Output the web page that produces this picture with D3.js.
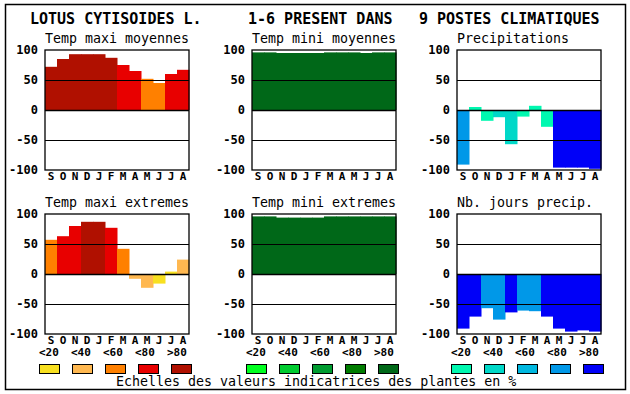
<!DOCTYPE html>
<html>
<head>
<meta charset="utf-8">
<script src="https://cdn.jsdelivr.net/npm/d3@7"></script>
<style>
  body { margin: 0; background: #fff; }
  text { font-family: "DejaVu Sans Mono", "Liberation Mono", monospace; fill: #000; }
</style>
</head>
<body>
<div class="chart"></div>
<script>
var svgWidth = 630;
var svgHeight = 394;

// data
var months = ["S","O","N","D","J","F","M","A","M","J","J","A"];
var yTicks = [100, 50, 0, -50, -100];
var classLabels = ["<20", "<40", "<60", "<80", ">80"];
var titles = ["LOTUS CYTISOIDES L.", "1-6 PRESENT DANS", "9 POSTES CLIMATIQUES"];
var panelNames = ["Temp maxi moyennes", "Temp mini moyennes", "Precipitations",
                  "Temp maxi extremes", "Temp mini extremes", "Nb. jours precip."];
var caption = "Echelles des valeurs indicatrices des plantes en %";

var tmaxMoy     = [72, 85, 93, 93, 93, 87, 75, 65, 52, 45, 60, 67];
var tmaxMoyCls  = [4, 4, 4, 4, 4, 4, 3, 3, 2, 2, 3, 3];
var tminMoy     = [96, 96, 95, 95, 95, 95, 96, 96, 96, 95, 96, 96];
var tminMoyCls  = [4, 4, 4, 4, 4, 4, 4, 4, 4, 4, 4, 4];
var precip      = [-91, 5, -18, -12, -57, -11, 7, -28, -96, -96, -96, -98];
var precipCls   = [3, 0, 0, 1, 1, 0, 0, 0, 4, 4, 4, 4];
var tmaxExt     = [57, 63, 80, 87, 87, 77, 42, -8, -23, -16, 4, 24];
var tmaxExtCls  = [2, 3, 3, 4, 4, 3, 2, 1, 1, 0, 0, 1];
var tminExt     = [96, 96, 94, 94, 94, 94, 96, 96, 96, 96, 96, 96];
var tminExtCls  = [4, 4, 4, 4, 4, 4, 4, 4, 4, 4, 4, 4];
var nbJours     = [-91, -71, -57, -76, -64, -61, -62, -71, -91, -96, -94, -96];
var nbJoursCls  = [4, 4, 3, 3, 4, 3, 3, 4, 4, 4, 4, 4];

var redScale   = ["#f8e020", "#ffb850", "#ff8000", "#e80000", "#b01000"];
var greenScale = ["#00ff20", "#00cc30", "#009c30", "#007c00", "#006818"];
var blueScale  = ["#00f8b0", "#00d8c8", "#00b8e0", "#0098e8", "#0000f8"];

var palettes = [redScale, greenScale, blueScale];

var panels = [
  {values: tmaxMoy, cls: tmaxMoyCls, pal: 0},
  {values: tminMoy, cls: tminMoyCls, pal: 1},
  {values: precip,  cls: precipCls,  pal: 2},
  {values: tmaxExt, cls: tmaxExtCls, pal: 0},
  {values: tminExt, cls: tminExtCls, pal: 1},
  {values: nbJours, cls: nbJoursCls, pal: 2}
];

// layout
var colX = [45, 252, 457];
var rowY = [50, 214];
var plotW = 144;
var plotH = 120;

var svg = d3.select(".chart")
  .append("svg")
  .attr("width", svgWidth)
  .attr("height", svgHeight);

// outer frame
svg.append("rect")
  .attr("x", 5.5).attr("y", 4.5)
  .attr("width", 620).attr("height", 385)
  .attr("fill", "none").attr("stroke", "#000").attr("stroke-width", 1.5);

// titles
var titleX = [30, 248, 419];
titles.forEach(function(t, i) {
  svg.append("text")
    .attr("x", titleX[i]).attr("y", 24)
    .style("font-size", "15px")
    .style("font-weight", "bold")
    .text(t);
});

var x = d3.scaleBand().domain(d3.range(12)).range([0, plotW]).padding(0);
var y = d3.scaleLinear().domain([-100, 100]).range([plotH, 0]);

panels.forEach(function(p, i) {
  var col = i % 3, row = Math.floor(i / 3);
  var g = svg.append("g")
    .attr("transform", `translate(${colX[col]}, ${rowY[row]})`);

  g.append("text")
    .attr("x", 0).attr("y", -7)
    .style("font-size", "13.3px")
    .text(panelNames[i]);

  // bars
  g.selectAll("rect.bar")
    .data(p.values)
    .enter()
    .append("rect")
    .attr("class", "bar")
    .attr("x", (d, j) => x(j))
    .attr("width", x.bandwidth() + 0.5)
    .attr("y", d => y(Math.max(0, d)))
    .attr("height", d => Math.abs(y(d) - y(0)))
    .attr("fill", (d, j) => palettes[p.pal][p.cls[j]]);

  // horizontal lines at 50, 0, -50
  g.selectAll("line.grid")
    .data([50, 0, -50])
    .enter()
    .append("line")
    .attr("x1", 0).attr("x2", plotW)
    .attr("y1", d => Math.round(y(d)) + 0.5)
    .attr("y2", d => Math.round(y(d)) + 0.5)
    .attr("stroke", "#000").attr("stroke-width", d => d === 0 ? 1.6 : 1.2);

  g.append("rect")
    .attr("x", 0).attr("y", 0)
    .attr("width", plotW).attr("height", plotH)
    .attr("fill", "none").attr("stroke", "#000").attr("stroke-width", 1.3);

  // y tick labels
  g.selectAll("text.tick")
    .data(yTicks)
    .enter()
    .append("text")
    .attr("x", -7)
    .attr("y", d => y(d))
    .attr("dy", "0.36em")
    .attr("text-anchor", "end")
    .style("font-size", "12px")
    .style("font-weight", "bold")
    .text(d => d);

  // month labels
  g.selectAll("text.month")
    .data(months)
    .enter()
    .append("text")
    .attr("x", (d, j) => x(j) + x.bandwidth() / 2)
    .attr("y", plotH + 10)
    .attr("text-anchor", "middle")
    .style("font-size", "11px")
    .style("font-weight", "bold")
    .text(d => d);
});

// legends
palettes.forEach(function(pal, k) {
  var lg = svg.append("g")
    .attr("transform", `translate(${colX[k] - 6}, 0)`);
  lg.selectAll("text")
    .data(classLabels)
    .enter()
    .append("text")
    .attr("x", (d, j) => j * 32)
    .attr("y", 356)
    .style("font-size", "11px")
    .style("font-weight", "bold")
    .text(d => d);
  lg.selectAll("rect")
    .data(pal)
    .enter()
    .append("rect")
    .attr("x", (d, j) => j * 33 + 0.5)
    .attr("y", 364.5)
    .attr("width", 20).attr("height", 9)
    .attr("fill", d => d)
    .attr("stroke", "#000").attr("stroke-width", 1);
});

svg.append("text")
  .attr("x", 116).attr("y", 386)
  .style("font-size", "13.3px")
  .text(caption);
</script>
</body>
</html>
